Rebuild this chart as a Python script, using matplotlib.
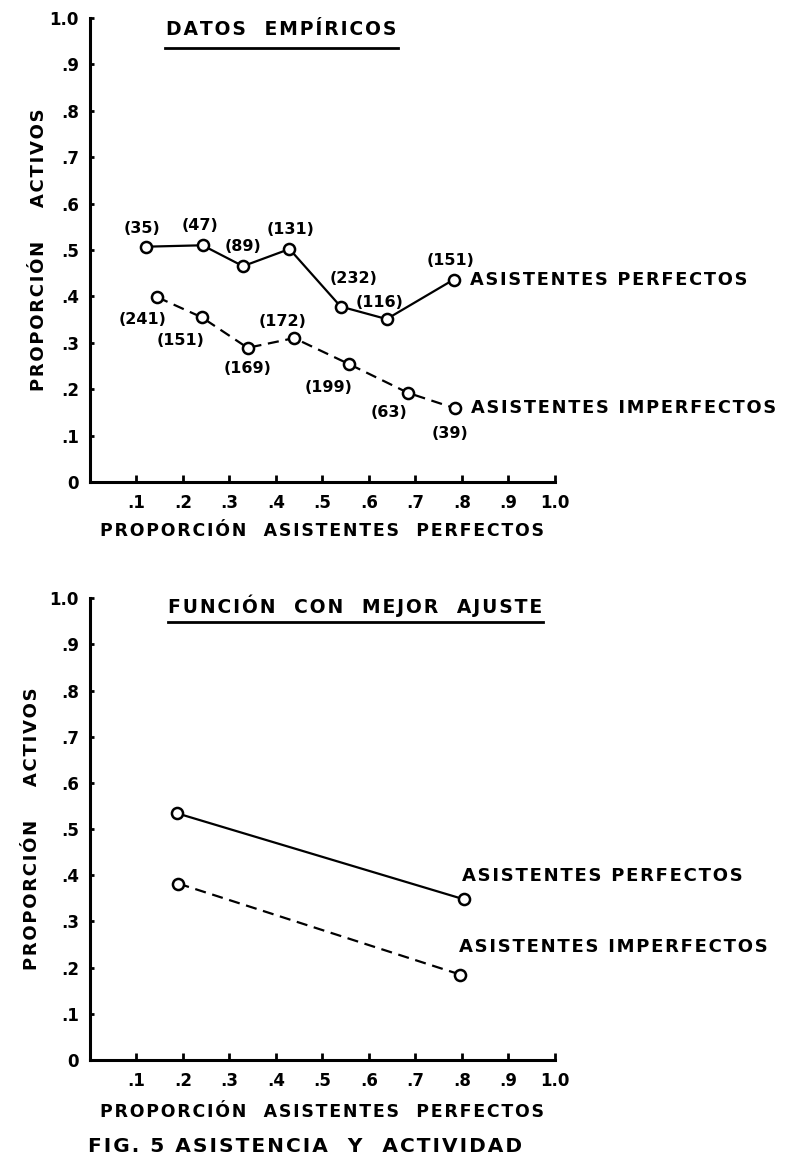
import matplotlib
matplotlib.use('Agg')
from matplotlib import pyplot as plt

# ---- datos empiricos ----
emp_x_perf = [0.121, 0.242, 0.329, 0.429, 0.539, 0.638, 0.782]
emp_y_perf = [0.507, 0.510, 0.465, 0.502, 0.378, 0.351, 0.436]
emp_n_perf = ['(35)', '(47)', '(89)', '(131)', '(232)', '(116)', '(151)']

emp_x_imp = [0.145, 0.240, 0.339, 0.439, 0.557, 0.684, 0.784]
emp_y_imp = [0.398, 0.355, 0.289, 0.310, 0.254, 0.192, 0.159]
emp_n_imp = ['(241)', '(151)', '(169)', '(172)', '(199)', '(63)', '(39)']

# ---- funcion con mejor ajuste ----
fit_x_perf = [0.188, 0.804]
fit_y_perf = [0.534, 0.348]
fit_x_imp = [0.190, 0.796]
fit_y_imp = [0.382, 0.185]

x_ticks = [0.1, 0.2, 0.3, 0.4, 0.5, 0.6, 0.7, 0.8, 0.9, 1.0]
x_ticklabels = ['.1', '.2', '.3', '.4', '.5', '.6', '.7', '.8', '.9', '1.0']
y_ticks = [0, 0.1, 0.2, 0.3, 0.4, 0.5, 0.6, 0.7, 0.8, 0.9, 1.0]
y_ticklabels = ['0', '.1', '.2', '.3', '.4', '.5', '.6', '.7', '.8', '.9', '1.0']

# offsets (points) of the n labels
off_perf = [(-3, 13), (-2, 14), (0, 14), (1, 14), (9, 20), (-5, 12), (-2, 14)]
off_imp = [(-11, -16), (-15, -17), (0, -15), (-8, 12), (-15, -17), (-14, -14), (-3, -18)]

FONT = dict(family='DejaVu Sans', weight='bold')
LW = 1.6
MK = dict(marker='o', markersize=8, markerfacecolor='white',
          markeredgecolor='black', markeredgewidth=1.8)


def sp(s):
    # lettering of the original is spaced out
    return '\u200a'.join(s)


def setup_axes(ax, ylabelpad, xlabelpad):
    ax.set_xlim(0, 1.0)
    ax.set_ylim(0, 1.0)
    for s in ['top', 'right']:
        ax.spines[s].set_visible(False)
    ax.spines['left'].set_linewidth(2.2)
    ax.spines['bottom'].set_linewidth(2.2)
    ax.set_xticks(x_ticks)
    ax.set_xticklabels(x_ticklabels, fontsize=12, **FONT)
    ax.set_yticks(y_ticks)
    ax.set_yticklabels(y_ticklabels, fontsize=12, **FONT)
    ax.tick_params(axis='x', direction='in', length=5, width=2, pad=9)
    ax.tick_params(axis='y', direction='in', length=3, width=2, pad=8)
    ax.set_ylabel(sp('PROPORCIÓN    ACTIVOS'), fontsize=13,
                  labelpad=ylabelpad, **FONT)
    ax.set_xlabel(sp('PROPORCIÓN  ASISTENTES  PERFECTOS'), fontsize=12.5,
                  labelpad=xlabelpad, **FONT)


def title_line(ax, txt, x0, x1, yt, yl):
    ax.text((x0 + x1) / 2, yt, sp(txt), transform=ax.transAxes, ha='center',
            va='center', fontsize=13.5, **FONT)
    ax.plot([x0, x1], [yl, yl], transform=ax.transAxes, color='black',
            lw=2, clip_on=False)


fig = plt.figure(figsize=(7.86, 11.63), dpi=100)

# ----------- arriba -----------
ax1 = fig.add_axes([0.1145, 0.5856, 0.5916, 0.399])
setup_axes(ax1, 1, 7)
ax1.plot(emp_x_perf, emp_y_perf, color='black', lw=LW, clip_on=False, **MK)
ax1.plot(emp_x_imp, emp_y_imp, color='black', lw=LW, linestyle=(0, (5, 3)),
         clip_on=False, **MK)
for x, y, t, o in zip(emp_x_perf, emp_y_perf, emp_n_perf, off_perf):
    ax1.annotate(t, (x, y), xytext=o, textcoords='offset points',
                 ha='center', va='center', fontsize=11.5, **FONT)
for x, y, t, o in zip(emp_x_imp, emp_y_imp, emp_n_imp, off_imp):
    ax1.annotate(t, (x, y), xytext=o, textcoords='offset points',
                 ha='center', va='center', fontsize=11.5, **FONT)
ax1.annotate(sp('ASISTENTES PERFECTOS'), (emp_x_perf[-1], emp_y_perf[-1]),
             xytext=(12, 0), textcoords='offset points', ha='left',
             va='center', fontsize=12.8, annotation_clip=False, **FONT)
ax1.annotate(sp('ASISTENTES IMPERFECTOS'), (emp_x_imp[-1], emp_y_imp[-1]),
             xytext=(12, 0), textcoords='offset points', ha='left',
             va='center', fontsize=12.8, annotation_clip=False, **FONT)
title_line(ax1, 'DATOS  EMPÍRICOS', 0.161, 0.662, 0.974, 0.935)

# ----------- abajo -----------
ax2 = fig.add_axes([0.1145, 0.0886, 0.5916, 0.397])
setup_axes(ax2, 6, 9)
ax2.plot(fit_x_perf, fit_y_perf, color='black', lw=LW, **MK)
ax2.plot(fit_x_imp, fit_y_imp, color='black', lw=LW, linestyle=(0, (5, 3)), **MK)
ax2.annotate(sp('ASISTENTES PERFECTOS'), (fit_x_perf[-1], fit_y_perf[-1]),
             xytext=(-1, 17), textcoords='offset points', ha='left',
             va='center', fontsize=13, annotation_clip=False, **FONT)
ax2.annotate(sp('ASISTENTES IMPERFECTOS'), (fit_x_imp[-1], fit_y_imp[-1]),
             xytext=(-1, 20), textcoords='offset points', ha='left',
             va='center', fontsize=13, annotation_clip=False, **FONT)
title_line(ax2, 'FUNCIÓN  CON  MEJOR  AJUSTE', 0.168, 0.974, 0.983, 0.948)

fig.text(88 / 786, 1 - 1147 / 1163, sp('FIG. 5 ASISTENCIA  Y  ACTIVIDAD'),
         ha='left', va='center', fontsize=14.5, **FONT)

fig.savefig('out.png', dpi=100)
